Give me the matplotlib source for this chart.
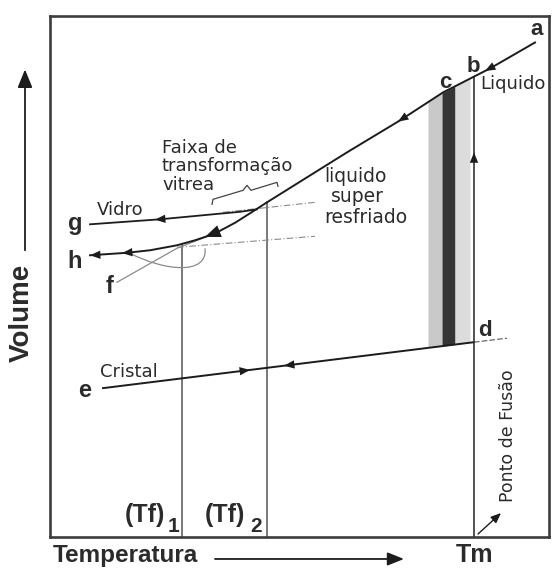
import numpy as np
import matplotlib
matplotlib.use("Agg")
import matplotlib.pyplot as plt
from matplotlib.path import Path
from matplotlib.patches import PathPatch

# ---- data (temperature T and volume V in arbitrary units) ----
liquid_T = [485, 440, 393, 350, 297, 217, 200, 185, 170, 160, 145, 127, 100, 77, 40]
liquid_V = [495, 469, 445, 417, 385, 335, 324, 314.5, 306.5, 302, 297, 292, 287, 284.5, 282]

glass_T = [207, 190, 163, 110, 40]
glass_V = [328, 325.5, 323, 318, 313]

crystal_T = [53, 424]
crystal_V = [149, 195]
crystal_ext_T = [424, 457]
crystal_ext_V = [195, 199]

# extrapolated (supercooled) guide lines
upper_guide_T = [173, 265]
upper_guide_V = [325, 335]
lower_guide_T = [127, 265]
lower_guide_V = [290, 301]
f_T = [67, 127, 160]
f_V = [255, 289, 302]
# relaxation loop below the glass transition (Bezier control points)
loop_T = [80, 115, 158, 155]
loop_V = [284, 266, 262, 289]

# brace marking the glass transformation range
brace_T = [162, 163, 193, 197, 201, 227, 228]
brace_V = [333, 338, 347, 352, 347, 355, 351]

Tm = 424
Tf1 = 132
Tf2 = 217

# solidification band (left light, dark, right light)
band_edges = [378, 392, 405, 420]
band_colors = ["#c9c9c9", "#353535", "#dcdcdc"]

T_MAX, V_MAX = 499, 522

ink = "#1c1c1c"
txt = "#2b2b2b"
grey = "#555555"
BOLD = dict(family="Liberation Sans", weight="bold", color=txt)
REG = dict(family="DejaVu Sans", color=txt)


def on_line(T, V, t):
    T = np.asarray(T, float)
    V = np.asarray(V, float)
    order = np.argsort(T)
    return float(np.interp(t, T[order], V[order]))


fig = plt.figure(figsize=(5.52, 5.68), dpi=100)
ax = fig.add_axes([50 / 552, 1 - 537 / 568, 499 / 552, (537 - 15.5) / 568])
ax.set_xlim(0, T_MAX)
ax.set_ylim(0, V_MAX)
ax.set_xticks([])
ax.set_yticks([])
for s in ax.spines.values():
    s.set_linewidth(1.9)
    s.set_color("#3d3d3d")


def head(tail, tip, scale=1.0, color=ink):
    ax.annotate("", xy=tip, xytext=tail,
                arrowprops=dict(arrowstyle=f"-|>,head_length={0.75*scale},head_width={0.3*scale}",
                                color=color, lw=0, shrinkA=0, shrinkB=0),
                annotation_clip=False)


def head_on(T, V, tip_t, tail_t, scale=1.0):
    head((tail_t, on_line(T, V, tail_t)), (tip_t, on_line(T, V, tip_t)), scale)


# solidification band between liquid and crystal lines
for (t0, t1), col in zip(zip(band_edges[:-1], band_edges[1:]), band_colors):
    ts = np.array([t0, t1], float)
    top = [on_line(liquid_T, liquid_V, t) for t in ts]
    bot = [on_line(crystal_T, crystal_V, t) for t in ts]
    ax.fill_between(ts, bot, top, color=col, lw=0, zorder=1)

# vertical reference lines
ax.plot([Tf1, Tf1], [0, on_line(liquid_T, liquid_V, Tf1)], color=grey, lw=1.1, zorder=2)
ax.plot([Tf2, Tf2], [0, on_line(liquid_T, liquid_V, Tf2)], color=grey, lw=1.1, zorder=2)
ax.plot([Tm, Tm], [0, on_line(liquid_T, liquid_V, Tm)], color="#333333", lw=1.2, zorder=2)

# guide lines
ax.plot(upper_guide_T, upper_guide_V, color="#8a8a8a", lw=0.8, ls=(0, (6, 2, 1, 2)), zorder=2)
ax.plot(lower_guide_T, lower_guide_V, color="#8a8a8a", lw=0.8, ls=(0, (6, 2, 1, 2)), zorder=2)
ax.plot(f_T, f_V, color="#8a8a8a", lw=0.9, zorder=2)
loop_path = Path(list(zip(loop_T, loop_V)),
                 [Path.MOVETO, Path.CURVE4, Path.CURVE4, Path.CURVE4])
ax.add_patch(PathPatch(loop_path, fill=False, edgecolor="#8a8a8a", lw=0.9, zorder=2))
ax.plot(brace_T, brace_V, color="#444444", lw=0.9, zorder=2)

# main curves
ax.plot(liquid_T, liquid_V, color=ink, lw=1.4, zorder=3)
ax.plot(glass_T, glass_V, color=ink, lw=1.3, zorder=3)
ax.plot(crystal_T, crystal_V, color=ink, lw=1.4, zorder=3)
ax.plot(crystal_ext_T, crystal_ext_V, color="#555555", lw=0.8, ls=(0, (5, 2)), zorder=3)

# direction arrowheads
head_on(liquid_T, liquid_V, 435, 445)
head_on(liquid_T, liquid_V, 348, 358)
head_on(liquid_T, liquid_V, 155, 166, scale=1.5)
head_on(liquid_T, liquid_V, 72, 82)
head((50, 282.5), (40, 282))
head_on(glass_T, glass_V, 105, 115)
head_on(crystal_T, crystal_V, 200, 190)
head_on(crystal_T, crystal_V, 234, 244)
head((Tm, 374), (Tm, 385))

# point labels
for s, t, v, fs in [("a", 487, 502, 16), ("b", 423, 465, 16), ("c", 395, 449, 16),
                    ("d", 435, 201, 16), ("e", 35, 140, 17), ("f", 60, 244, 17),
                    ("g", 25, 307, 17), ("h", 25, 269, 17)]:
    ax.text(t, v, s, ha="center", va="baseline", fontsize=fs, **BOLD)

# curve annotations
ax.text(47, 322, "Vidro", ha="left", va="baseline", fontsize=13, **REG)
ax.text(50, 160, "Cristal", ha="left", va="baseline", fontsize=13, **REG)
ax.text(430, 448, "Liquido", ha="left", va="baseline", fontsize=13, **REG, clip_on=False)
ax.text(112, 384, "Faixa de", ha="left", va="baseline", fontsize=13, **REG)
ax.text(112, 366, "transformação", ha="left", va="baseline", fontsize=13, **REG)
ax.text(112, 347, "vitrea", ha="left", va="baseline", fontsize=13, **REG)
ax.text(305, 355, "liquido", ha="center", va="baseline", fontsize=13.5, **REG)
ax.text(307, 335, "super", ha="center", va="baseline", fontsize=13.5, **REG)
ax.text(316, 314, "resfriado", ha="center", va="baseline", fontsize=13.5, **REG)
ax.text(458, 101, "Ponto de Fusão", ha="center", va="center", rotation=90,
        fontsize=12.5, **REG)
ax.annotate("", xy=(451, 24), xytext=(428, 3),
            arrowprops=dict(arrowstyle="-|>,head_length=0.6,head_width=0.25",
                            color=ink, lw=1.0, shrinkA=0, shrinkB=0))

# fictive temperature labels
ax.text(75, 15, "(Tf)", ha="left", va="baseline", fontsize=18, **BOLD)
ax.text(118, 5, "1", ha="left", va="baseline", fontsize=15, **BOLD)
ax.text(155, 15, "(Tf)", ha="left", va="baseline", fontsize=18, **BOLD)
ax.text(200, 5, "2", ha="left", va="baseline", fontsize=15, **BOLD)

# axis titles and arrows
ax.text(3, -25, "Temperatura", ha="left", va="baseline", fontsize=17.5, **BOLD)
ax.text(Tm + 1, -25, "Tm", ha="center", va="baseline", fontsize=18, **BOLD)
ax.annotate("", xy=(354, -22), xytext=(165, -22), annotation_clip=False,
            arrowprops=dict(arrowstyle="-|>,head_length=1.0,head_width=0.4",
                            color=ink, lw=1.3, shrinkA=0, shrinkB=0))
ax.text(-28, 224, "Volume", ha="center", va="center", rotation=90, fontsize=20, **BOLD)
ax.annotate("", xy=(-25, 468), xytext=(-25, 287), annotation_clip=False,
            arrowprops=dict(arrowstyle="-|>,head_length=1.1,head_width=0.45",
                            color=ink, lw=1.3, shrinkA=0, shrinkB=0))

fig.savefig("out.png", dpi=100, facecolor="white")
